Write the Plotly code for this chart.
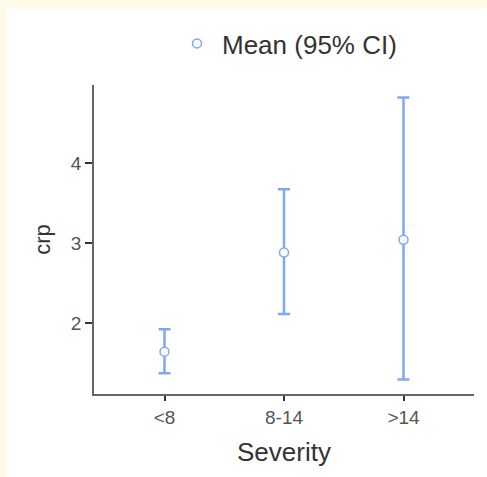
import plotly.graph_objects as go

categories = ["<8", "8-14", ">14"]
means = [1.64, 2.88, 3.04]
upper = [1.92, 3.67, 4.82]
lower = [1.37, 2.11, 1.29]
y_ticks = [2, 3, 4]

blue = "#7EA9F2"
cream = "#FFFBEA"
err_plus = [u - m for u, m in zip(upper, means)]
err_minus = [m - l for m, l in zip(means, lower)]

fig = go.Figure()
fig.add_trace(go.Scatter(
    x=categories, y=means, mode="markers", name="Mean (95% CI)",
    marker=dict(symbol="circle", size=9, color="white", line=dict(color=blue, width=1.5)),
    error_y=dict(type="data", symmetric=False, array=err_plus, arrayminus=err_minus,
                 color=blue, thickness=2.5, width=6),
))

W, H = 487, 477
l, r, t, b = 94, 13, 85, 83
pw, ph = W - l - r, H - t - b

def px(x):
    return (x - l) / pw

def py(y):
    return (H - b - y) / ph

fig.add_shape(type="rect", xref="paper", yref="paper",
              x0=px(6), x1=px(495), y0=py(485), y1=py(9),
              fillcolor="white", line=dict(width=0), layer="below")

fig.update_layout(
    width=W, height=H,
    margin=dict(l=l, r=r, t=t, b=b),
    paper_bgcolor=cream,
    plot_bgcolor="white",
    font=dict(family="Liberation Sans, Arial, sans-serif", color="#333333"),
    showlegend=True,
    legend=dict(orientation="h", x=px(172), y=py(20), xanchor="left", yanchor="top",
                itemwidth=40,
                font=dict(size=26, color="#333333"), bgcolor="rgba(0,0,0,0)"),
    xaxis=dict(
        type="category", range=[-0.59, 2.59],
        showline=True, linecolor="#666666", linewidth=1.5,
        ticks="outside", ticklen=5, tickwidth=2, tickcolor="#333333",
        tickfont=dict(size=19, color="#555555"),
        showgrid=False, zeroline=False,
        title=dict(text="Severity", font=dict(size=26, color="#333333"), standoff=16),
    ),
    yaxis=dict(
        range=[1.11, 4.975],
        tickvals=y_ticks, ticktext=[str(v) for v in y_ticks],
        showline=True, linecolor="#666666", linewidth=1.5,
        ticks="outside", ticklen=7, tickwidth=2, tickcolor="#333333",
        tickfont=dict(size=19, color="#555555"),
        showgrid=False, zeroline=False,
        title=dict(text="crp", font=dict(size=22, color="#333333"), standoff=14),
    ),
)

fig.write_html(
    "out.html",
    config={"displayModeBar": False},
    post_script="document.body.style.margin='0';document.body.style.background='" + cream + "';",
)
